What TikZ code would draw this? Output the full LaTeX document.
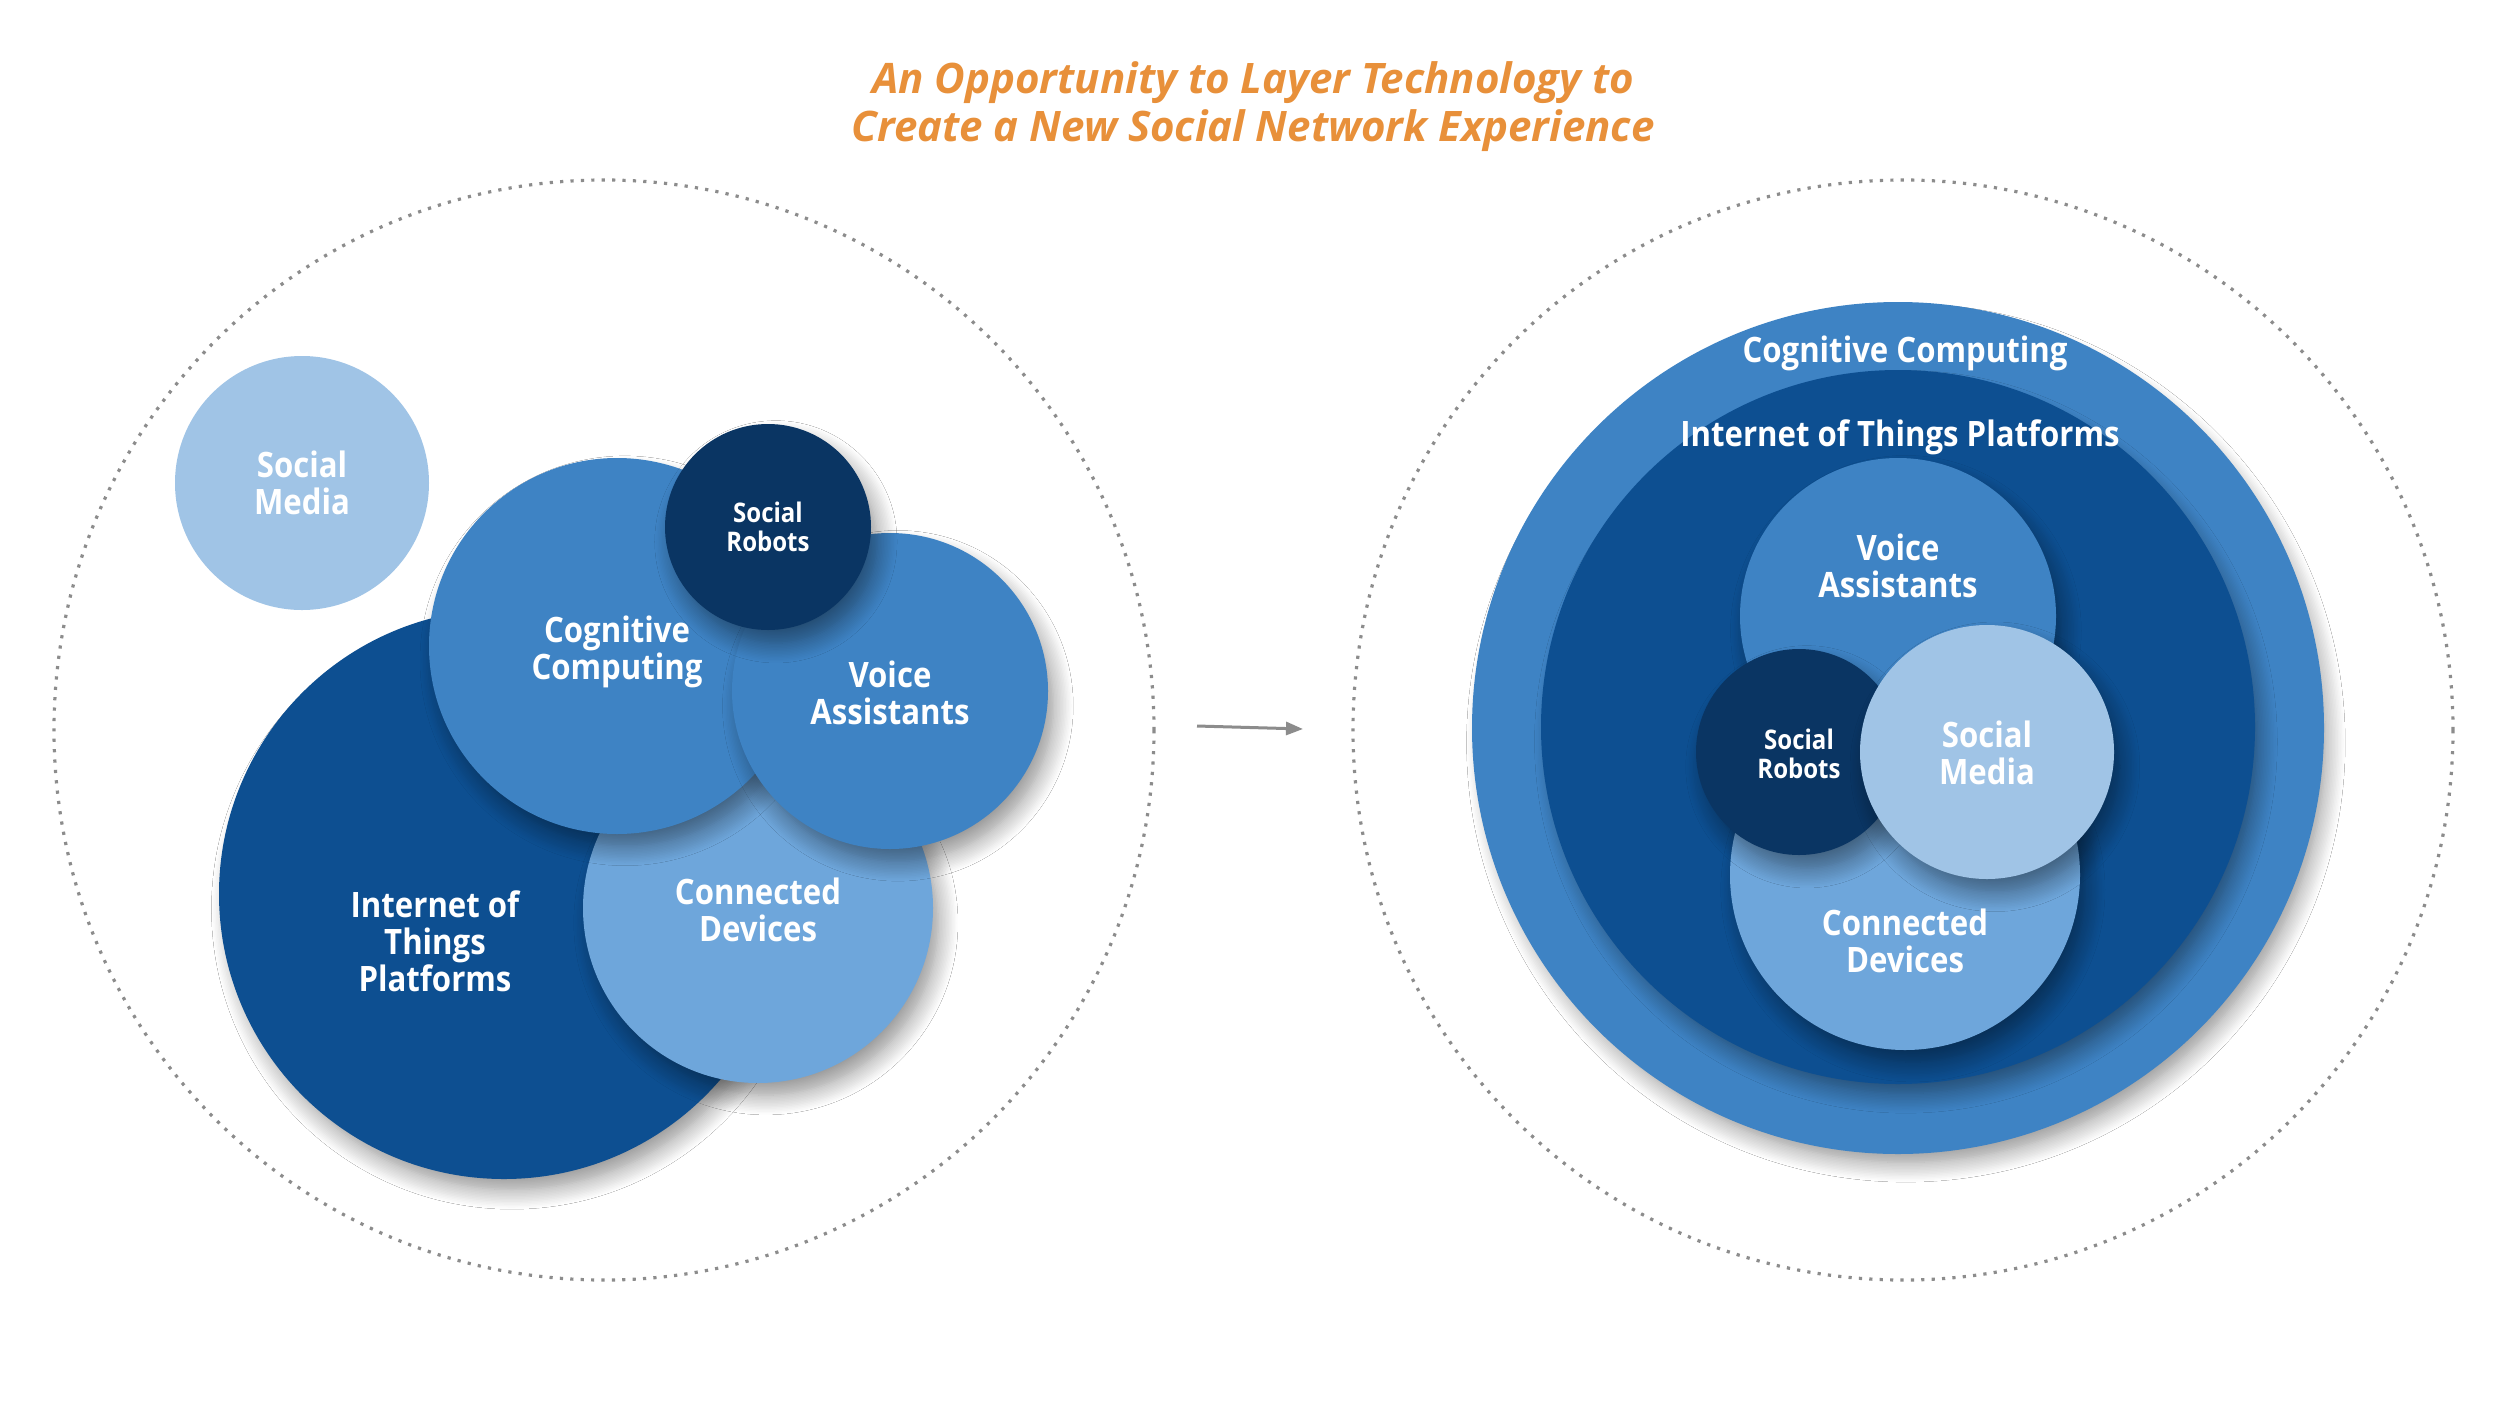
\documentclass[tikz,border=0pt]{standalone}
\usepackage{fontspec}
\setmainfont{Open Sans}
\newfontfamily\lblfont{Open Sans}[BoldFeatures={FakeStretch=0.89}]
\usetikzlibrary{shadows.blur, arrows.meta}
\definecolor{titleorange}{RGB}{232,144,58}
\definecolor{cogblue}{RGB}{62,131,196}
\definecolor{iotblue}{RGB}{13,79,145}
\definecolor{robnavy}{RGB}{10,53,99}
\definecolor{devblue}{RGB}{110,166,219}
\definecolor{smblue}{RGB}{160,196,230}
\definecolor{dotgray}{RGB}{140,140,140}
\begin{document}
\begin{tikzpicture}[x=1pt,y=-1pt,
  ball/.style={circle, inner sep=0pt, outer sep=0pt, minimum size=#1},
  shad/.style={blur shadow={shadow xshift=8pt, shadow yshift=-15pt, shadow blur radius=20pt, shadow blur steps=14, shadow opacity=45, shadow scale=0.985}},
  lbl/.style={text=white, font=\fontsize{35}{37}\lblfont\bfseries, align=center},
  slbl/.style={text=white, font=\fontsize{27}{29}\lblfont\bfseries, align=center},
  frame/.style={circle, inner sep=0pt, minimum size=#1, draw=dotgray, line width=3.2pt, dash pattern=on 3.2pt off 7.2pt},
  ttl/.style={text=titleorange, font=\fontsize{42}{48}\selectfont\bfseries\itshape, align=center}
]
\useasboundingbox[fill=white] (0,0) rectangle (2500,1406);

% title
\node[ttl] (title) at (1253,107) {An Opportunity to Layer Technology to\\Create a New Social Network Experience};

% frames
\node[frame=1100pt] (lframe) at (604,730) {};
\node[frame=1100pt] (rframe) at (1903,730) {};

% arrow
\coordinate (arrS) at (1197,726);
\coordinate (arrE) at (1303,729);
\draw[dotgray, line width=3pt, -{Triangle[length=17pt, width=13pt]}] (arrS) -- (arrE);

% ---------- left group ----------
\node[ball=254pt, fill=smblue] (lsm) at (302,483) {};
\node[ball=570pt, fill=iotblue, shad] (liot) at (504,894) {};
\node[ball=350pt, fill=devblue, shad] (ldev) at (758,908) {};
\node[ball=376pt, fill=cogblue, shad] (lcog) at (617,646) {};
\node[ball=316pt, fill=cogblue, shad] (lva) at (890,691) {};
\node[ball=206pt, fill=robnavy, shad] (lrob) at (768,527) {};

\node[lbl] (lsmT) at (lsm) {Social\\Media};
\node[lbl] (liotT) at (435,941) {Internet of\\Things\\Platforms};
\node[lbl] (ldevT) at (758,910) {Connected\\Devices};
\node[lbl] (lcogT) at (617,652) {Cognitive\\Computing};
\node[lbl] (lvaT) at (890,693) {Voice\\Assistants};
\node[slbl] (lrobT) at (lrob) {Social\\Robots};

% ---------- right group ----------
\node[ball=852pt, fill=cogblue, shad] (rcog) at (1898,728) {};
\node[ball=714pt, fill=iotblue, shad] (riot) at (1898,727) {};
\node[ball=316pt, fill=cogblue, shad] (rva) at (1898,616) {};
\node[ball=350pt, fill=devblue, shad] (rdev) at (1905,875) {};
\node[ball=206pt, fill=robnavy, shad] (rrob) at (1799,752) {};
\node[ball=254pt, fill=smblue, shad] (rsm) at (1987,752) {};

\node[lbl] (rcogT) at (1905,353) {Cognitive Computing};
\node[lbl] (riotT) at (1900,437) {Internet of Things Platforms};
\node[lbl] (rvaT) at (1898,566) {Voice\\Assistants};
\node[slbl] (rrobT) at (1799,754) {Social\\Robots};
\node[lbl] (rsmT) at (1987,753) {Social\\Media};
\node[lbl] (rdevT) at (1905,941) {Connected\\Devices};
\end{tikzpicture}
\end{document}
